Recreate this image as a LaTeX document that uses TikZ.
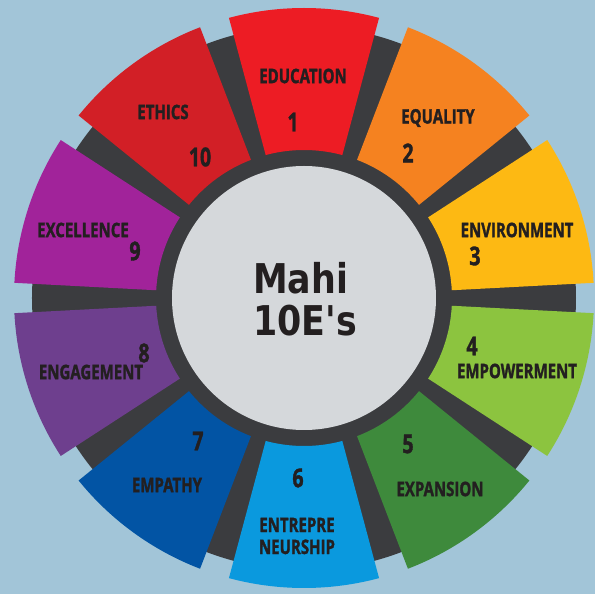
\documentclass[tikz,border=0pt]{standalone}
\usepackage{fontspec}
\usepackage{tikz}
\newfontfamily\etiqfont{Open Sans}[FakeStretch=0.75, BoldFeatures={FakeBold=1.4}]
\newfontfamily\centrofont{DejaVu Sans}[FakeStretch=0.85]
\definecolor{fondo}{HTML}{A2C5D8}
\definecolor{anillo}{HTML}{3B3C3F}
\definecolor{disco}{HTML}{D5D8DB}
\definecolor{texto}{HTML}{231F20}
\definecolor{cEducation}{HTML}{ED1C24}
\definecolor{cEquality}{HTML}{F58220}
\definecolor{cEnvironment}{HTML}{FDB913}
\definecolor{cEmpowerment}{HTML}{8CC43F}
\definecolor{cExpansion}{HTML}{3E8A3C}
\definecolor{cEntre}{HTML}{0A99DE}
\definecolor{cEmpathy}{HTML}{0254A4}
\definecolor{cEngagement}{HTML}{6E3F8E}
\definecolor{cExcellence}{HTML}{A1239A}
\definecolor{cEthics}{HTML}{D21F26}
% one coloured piece of the wheel: #1 middle angle, #2 colour
\newcommand{\petalo}[2]{\fill[#2] (#1-15:148pt) arc[start angle=#1-15, end angle=#1+15, radius=148pt] -- (#1+15:290pt) arc[start angle=#1+15, end angle=#1-15, radius=290pt] -- cycle;}
\tikzstyle{etiqueta} = [text=texto, font=\etiqfont\bfseries\fontsize{20}{22}\selectfont, inner sep=0pt, align=center]
\tikzstyle{numero} = [text=texto, font=\etiqfont\bfseries\fontsize{26}{28}\selectfont, inner sep=0pt]
\tikzstyle{titulo} = [text=texto, font=\centrofont\bfseries\fontsize{41}{42}\selectfont, inner sep=0pt, align=left]

\begin{document}
\begin{tikzpicture}
		\useasboundingbox (-304pt,-296pt) rectangle (291pt,298pt);
		\fill[fondo] (-304pt,-296pt) rectangle (291pt,298pt);
		\fill[anillo] (0,0) circle (272pt);
		\petalo{90}{cEducation}
		\petalo{54}{cEquality}
		\petalo{18}{cEnvironment}
		\petalo{-18}{cEmpowerment}
		\petalo{-54}{cExpansion}
		\petalo{-90}{cEntre}
		\petalo{-126}{cEmpathy}
		\petalo{-162}{cEngagement}
		\petalo{162}{cExcellence}
		\petalo{126}{cEthics}
		\fill[disco] (0,0) circle (132pt);
		\node[titulo] (centro) at (1pt,-1pt) {Mahi\\10E's};
		% names and numbers
		\node[etiqueta] (education) at (-1pt,222pt) {EDUCATION};
		\node[numero] (n1) at (-11pt,176pt) {1};
		\node[etiqueta] (equality) at (134pt,180pt) {EQUALITY};
		\node[numero] (n2) at (104pt,145pt) {2};
		\node[etiqueta] (environment) at (213pt,68pt) {ENVIRONMENT};
		\node[numero] (n3) at (171pt,42pt) {3};
		\node[numero] (n4) at (168pt,-48pt) {4};
		\node[etiqueta] (empowerment) at (213pt,-73pt) {EMPOWERMENT};
		\node[numero] (n5) at (104pt,-146pt) {5};
		\node[etiqueta] (expansion) at (136pt,-191pt) {EXPANSION};
		\node[numero] (n6) at (-6pt,-180pt) {6};
		\node[etiqueta] (entrepreneurship) at (-7pt,-238pt) {ENTREPRE\\NEURSHIP};
		\node[numero] (n7) at (-106pt,-143pt) {7};
		\node[etiqueta] (empathy) at (-137pt,-187pt) {EMPATHY};
		\node[numero] (n8) at (-160pt,-55pt) {8};
		\node[etiqueta] (engagement) at (-213pt,-74pt) {ENGAGEMENT};
		\node[etiqueta] (excellence) at (-221pt,68pt) {EXCELLENCE};
		\node[numero] (n9) at (-169pt,47pt) {9};
		\node[etiqueta] (ethics) at (-141pt,186pt) {ETHICS};
		\node[numero] (n10) at (-104pt,141pt) {10};
	\end{tikzpicture}
\end{document}
